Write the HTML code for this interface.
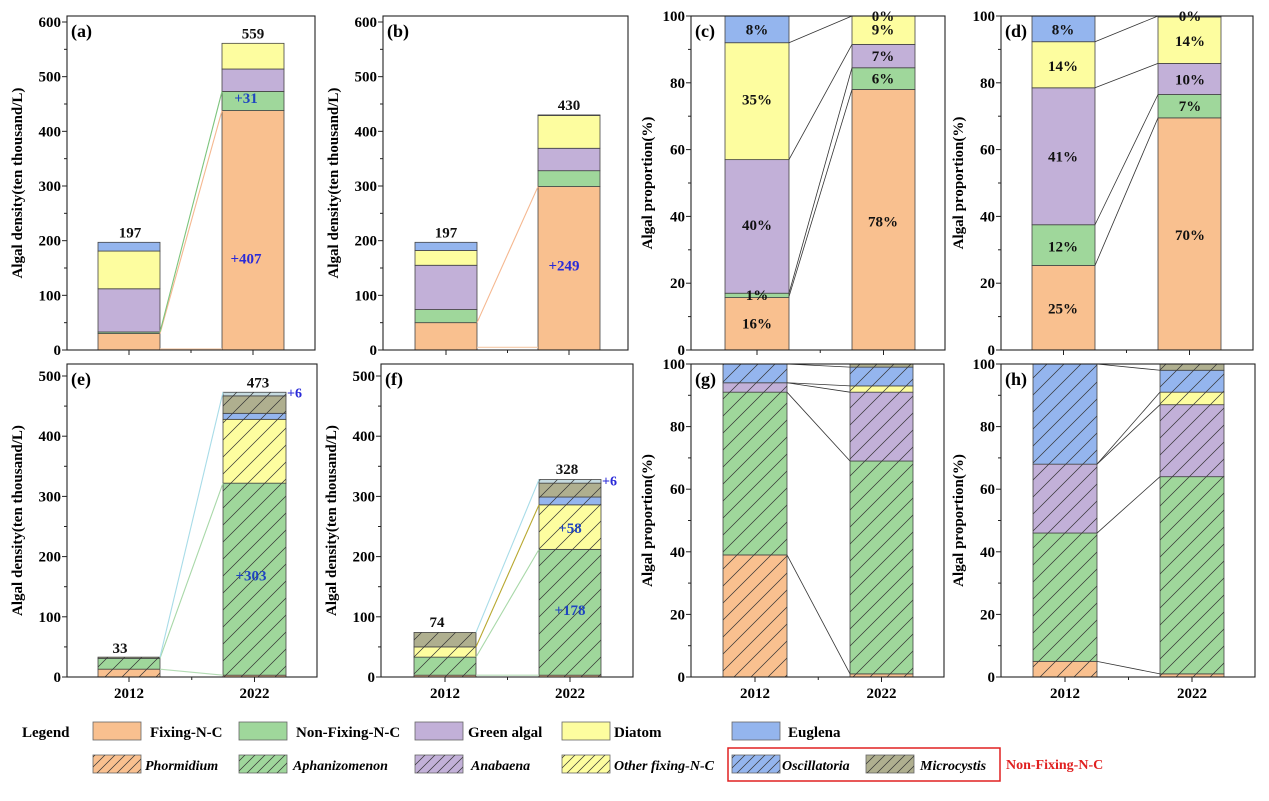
<!DOCTYPE html>
<html><head><meta charset="utf-8"><style>
html,body{margin:0;padding:0;background:#fff}
svg{display:block}
text{font-family:"Liberation Serif",serif;font-weight:bold}
</style></head><body>
<svg id="s" width="1269" height="801" xmlns="http://www.w3.org/2000/svg">
<defs>
<pattern id="h" patternUnits="userSpaceOnUse" width="17" height="17"><line x1="0" y1="17" x2="17" y2="0" stroke="#333" stroke-width="0.7"/><line x1="-2" y1="2" x2="2" y2="-2" stroke="#333" stroke-width="0.7"/><line x1="15" y1="19" x2="19" y2="15" stroke="#333" stroke-width="0.7"/></pattern>
<pattern id="hs" patternUnits="userSpaceOnUse" width="10" height="10"><line x1="0" y1="10" x2="10" y2="0" stroke="#333" stroke-width="0.7"/><line x1="-2" y1="2" x2="2" y2="-2" stroke="#333" stroke-width="0.7"/><line x1="8" y1="12" x2="12" y2="8" stroke="#333" stroke-width="0.7"/></pattern>
</defs>
</svg>
<script>
var S=document.getElementById('s'),out='';
var C={F:'#f9c08f',N:'#9fd79b',G:'#c2b0d8',D:'#fdfd9f',E:'#94b5ee',M:'#afaf8f',T:'#c6dbe0'};
function P(o){
 var x0=o.x0,x1=o.x1,top=o.top,bot=o.bot,ym=o.ymPos,max=o.max;
 function y(v){return bot-v/max*(bot-ym);}
 o.bars.forEach(function(b){
  b.seg.forEach(function(s){
   var ya=y(s[1]),yb=y(s[0]);
   out+='<rect x="'+b.x+'" y="'+ya+'" width="'+b.w+'" height="'+(yb-ya)+'" fill="'+C[s[2]]+'" stroke="#444" stroke-width="0.8"/>';
   if(o.hatch) out+='<rect x="'+b.x+'" y="'+ya+'" width="'+b.w+'" height="'+(yb-ya)+'" fill="url(#h)"/>';
  });
 });
 (o.lines||[]).forEach(function(l){
  out+='<line x1="'+l[0]+'" y1="'+y(l[1])+'" x2="'+l[2]+'" y2="'+y(l[3])+'" stroke="'+(l[4]||'#333')+'" stroke-width="'+(l[4]?1.1:0.8)+'"/>';
 });
 out+='<rect x="'+x0+'" y="'+top+'" width="'+(x1-x0)+'" height="'+(bot-top)+'" fill="none" stroke="#222" stroke-width="1.1"/>';
 for(var v=0;v<=max;v+=o.step){var yy=y(v);
  out+='<line x1="'+(x0-5)+'" y1="'+yy+'" x2="'+x0+'" y2="'+yy+'" stroke="#222"/>';
  out+='<text x="'+(x0-6)+'" y="'+(yy+5)+'" font-size="15" text-anchor="end">'+v+'</text>';
  if(v+o.step/2<=max){var ym2=y(v+o.step/2);out+='<line x1="'+(x0-3)+'" y1="'+ym2+'" x2="'+x0+'" y2="'+ym2+'" stroke="#222"/>';}
 }
 var xs=[o.bars[0].x+o.bars[0].w/2,o.bars[1].x+o.bars[1].w/2];
 out+='<line x1="'+xs[0]+'" y1="'+bot+'" x2="'+xs[0]+'" y2="'+(bot+5)+'" stroke="#222"/><line x1="'+xs[1]+'" y1="'+bot+'" x2="'+xs[1]+'" y2="'+(bot+5)+'" stroke="#222"/>';
 var xm=(xs[0]+xs[1])/2;out+='<line x1="'+xm+'" y1="'+bot+'" x2="'+xm+'" y2="'+(bot+3)+'" stroke="#222"/>';
 if(o.years){out+='<text x="'+xs[0]+'" y="'+(bot+21)+'" font-size="15" text-anchor="middle">2012</text><text x="'+xs[1]+'" y="'+(bot+21)+'" font-size="15" text-anchor="middle">2022</text>';}
 var tx=x0-o.tOff,ty=(top+bot)/2;
 out+='<text transform="translate('+tx+','+ty+') rotate(-90)" font-size="15" text-anchor="middle">'+o.title+'</text>';
 out+='<text x="'+(x0+4)+'" y="'+(top+21)+'" font-size="18">'+o.lab+'</text>';
 (o.txt||[]).forEach(function(t){out+='<text x="'+t[0]+'" y="'+y(t[1])+'" font-size="'+(t[3]||15)+'" text-anchor="'+(t[4]||'middle')+'" fill="'+(t[2]||'#111')+'">'+t[5]+'</text>';});
}
var DT='Algal density(ten thousand/L)',PT='Algal proportion(%)',B1='#2a2ad8',B2='#1f45c0';
P({x0:67,x1:315,top:16,bot:350,ymPos:22,max:600,step:100,tOff:45,title:DT,lab:'(a)',
bars:[{x:98,w:62,seg:[[0,30,'F'],[30,33,'N'],[33,112,'G'],[112,181,'D'],[181,197,'E']]},{x:222,w:62,seg:[[0,438,'F'],[438,473,'N'],[473,514,'G'],[514,561,'D']]}],
lines:[[160,2,222,2,'#f5c9a8'],[160,30,222,438,'#f5b890'],[160,33,222,473,'#7cc47c']],
txt:[[130,206,'',15,'middle','197'],[253,570,'',15,'middle','559'],[246,452,B2,15,'middle','+31'],[246,158,B1,15,'middle','+407']]});
P({x0:383,x1:628,top:16,bot:350,ymPos:22,max:600,step:100,tOff:45,title:DT,lab:'(b)',
bars:[{x:415,w:62,seg:[[0,50,'F'],[50,74,'N'],[74,155,'G'],[155,182,'D'],[182,197,'E']]},{x:538,w:62,seg:[[0,299,'F'],[299,328,'N'],[328,369,'G'],[369,429,'D'],[429,430,'E']]}],
lines:[[477,5,538,5,'#f5c9a8'],[477,50,538,299,'#f5b890']],
txt:[[446,206,'',15,'middle','197'],[569,439,'',15,'middle','430'],[564,145,B1,15,'middle','+249']]});
P({x0:691,x1:945,top:16,bot:350,ymPos:16,max:100,step:20,tOff:39,title:PT,lab:'(c)',
bars:[{x:725,w:64,seg:[[0,15.7,'F'],[15.7,17,'N'],[17,57,'G'],[57,92,'D'],[92,100,'E']]},{x:852,w:63,seg:[[0,78,'F'],[78,84.5,'N'],[84.5,91.5,'G'],[91.5,100,'D']]}],
lines:[[789,92,852,100],[789,57,852,91.5],[789,17,852,84.5],[789,16,852,78]],
txt:[[757,94.5,'',15,'middle','8%'],[757,73.5,'',15,'middle','35%'],[757,36,'',15,'middle','40%'],[757,15,'',15,'middle','1%'],[757,6.5,'',15,'middle','16%'],[883,98.5,'',15,'middle','0%'],[883,94.5,'',15,'middle','9%'],[883,86.5,'',15,'middle','7%'],[883,79.8,'',15,'middle','6%'],[883,37,'',15,'middle','78%']]});
P({x0:1001,x1:1253,top:16,bot:350,ymPos:16,max:100,step:20,tOff:38,title:PT,lab:'(d)',
bars:[{x:1032,w:63,seg:[[0,25.3,'F'],[25.3,37.5,'N'],[37.5,78.5,'G'],[78.5,92.3,'D'],[92.3,100,'E']]},{x:1158,w:63,seg:[[0,69.5,'F'],[69.5,76.5,'N'],[76.5,85.8,'G'],[85.8,99.7,'D'],[99.7,100,'E']]}],
lines:[[1095,92.3,1158,100],[1095,78.5,1158,85.8],[1095,37.5,1158,76.5],[1095,25.3,1158,69.5]],
txt:[[1063,94.5,'',15,'middle','8%'],[1063,83.5,'',15,'middle','14%'],[1063,56.5,'',15,'middle','41%'],[1063,29.5,'',15,'middle','12%'],[1063,11,'',15,'middle','25%'],[1190,98.5,'',15,'middle','0%'],[1190,91,'',15,'middle','14%'],[1190,79.5,'',15,'middle','10%'],[1190,71.5,'',15,'middle','7%'],[1190,33,'',15,'middle','70%']]});
P({x0:67,x1:317,top:364,bot:677,ymPos:376,max:500,step:100,tOff:45,title:DT,lab:'(e)',years:1,hatch:1,
bars:[{x:98,w:62,seg:[[0,13,'F'],[13,31,'N'],[31,33,'M']]},{x:223,w:63,seg:[[0,3,'F'],[3,322,'N'],[322,428,'D'],[428,438,'E'],[438,467,'M'],[467,473,'T']]}],
lines:[[160,13,223,3,'#b5dcb5'],[160,31,223,322,'#a8d8a8'],[160,33,223,473,'#a8dce8']],
txt:[[120,40,'',15,'middle','33'],[258,481,'',15,'middle','473'],[287,464,B1,14,'start','+6'],[251,160,B2,15,'middle','+303']]});
P({x0:381,x1:633,top:364,bot:677,ymPos:376,max:500,step:100,tOff:45,title:DT,lab:'(f)',years:1,hatch:1,
bars:[{x:414,w:62,seg:[[0,3,'F'],[3,33,'N'],[33,50,'D'],[50,74,'M']]},{x:539,w:62,seg:[[0,3,'F'],[3,212,'N'],[212,286,'D'],[286,299,'E'],[299,322,'M'],[322,328,'T']]}],
lines:[[476,3,539,3,'#b5dcb5'],[476,33,539,212,'#a8d8a8'],[476,50,539,286,'#b8a830'],[476,74,539,328,'#a8dce8']],
txt:[[437,83,'',15,'middle','74'],[567,337,'',15,'middle','328'],[602,318,B1,14,'start','+6'],[570,239,B2,15,'middle','+58'],[570,103,B2,15,'middle','+178']]});
P({x0:691,x1:944,top:364,bot:677,ymPos:364,max:100,step:20,tOff:39,title:PT,lab:'(g)',years:1,hatch:1,
bars:[{x:723,w:64,seg:[[0,39,'F'],[39,91,'N'],[91,94,'G'],[94,100,'E']]},{x:850,w:63,seg:[[0,1,'F'],[1,69,'N'],[69,91,'G'],[91,93,'D'],[93,99,'E'],[99,100,'M']]}],
lines:[[787,100,850,99],[787,94,850,93],[787,94,850,91],[787,91,850,69],[787,39,850,1]],txt:[]});
P({x0:1001,x1:1255,top:364,bot:677,ymPos:364,max:100,step:20,tOff:38,title:PT,lab:'(h)',years:1,hatch:1,
bars:[{x:1033,w:64,seg:[[0,5,'F'],[5,46,'N'],[46,68,'G'],[68,100,'E']]},{x:1160,w:64,seg:[[0,1,'F'],[1,64,'N'],[64,87,'G'],[87,91,'D'],[91,98,'E'],[98,100,'M']]}],
lines:[[1097,100,1160,98],[1097,68,1160,91],[1097,68,1160,87],[1097,46,1160,64],[1097,5,1160,1]],txt:[]});
out+='<text x="22" y="737" font-size="15">Legend</text>';
var r1=[[93,'F',150,'Fixing-N-C'],[239,'N',296,'Non-Fixing-N-C'],[415,'G',468,'Green algal'],[562,'D',614,'Diatom'],[732,'E',788,'Euglena']];
r1.forEach(function(a){out+='<rect x="'+a[0]+'" y="722" width="48" height="18" fill="'+C[a[1]]+'" stroke="#666" stroke-width="0.8"/><text x="'+a[2]+'" y="737" font-size="15">'+a[3]+'</text>';});
var r2=[[93,'F',145,'Phormidium'],[239,'N',293,'Aphanizomenon'],[415,'G',471,'Anabaena'],[562,'D',614,'Other fixing-N-C'],[732,'E',782,'Oscillatoria'],[866,'M',920,'Microcystis']];
r2.forEach(function(a){out+='<rect x="'+a[0]+'" y="755" width="48" height="18" fill="'+C[a[1]]+'" stroke="#666" stroke-width="0.8"/><rect x="'+a[0]+'" y="755" width="48" height="18" fill="url(#hs)"/><text x="'+a[2]+'" y="770" font-size="14" font-style="italic">'+a[3]+'</text>';});
out+='<rect x="728" y="748" width="272" height="33" fill="none" stroke="#e02020" stroke-width="1.5"/><text x="1006" y="769" font-size="14" fill="#e02020">Non-Fixing-N-C</text>';
S.insertAdjacentHTML('beforeend',out);
</script>
</body></html>
